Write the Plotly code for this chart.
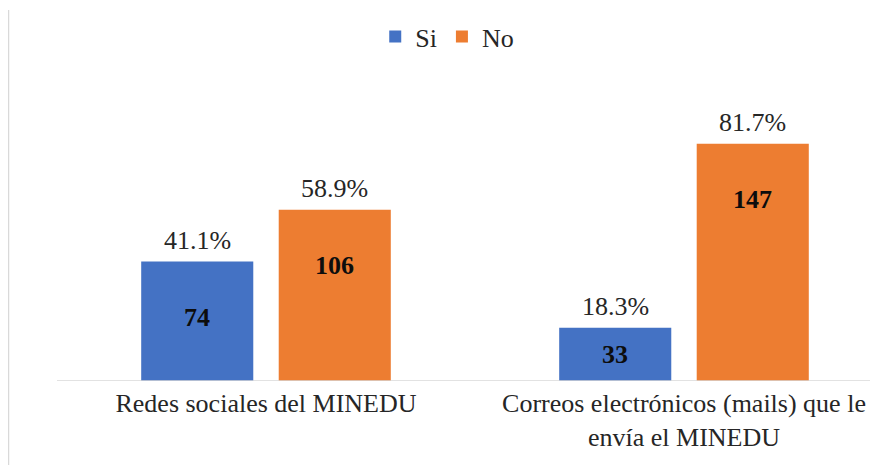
import plotly.graph_objects as go

categories = ["Redes sociales del MINEDU", "Correos electrónicos (mails) que le<br>envía el MINEDU"]
si_counts = [74, 33]
no_counts = [106, 147]
si_pct = ["41.1%", "18.3%"]
no_pct = ["58.9%", "81.7%"]

FONT = "Liberation Serif, Times New Roman, serif"
BLUE = "#4472C4"
ORANGE = "#ED7D31"
FS = 26

# the page body adds an 8px offset, so the figure is drawn 8px smaller
W, H = 873, 463
ML, MR, MT, MB = 49, 11, 52, 90
YMAX = 198.8
plot_h = H - MT - MB
plot_w = W - ML - MR
px_per_unit = plot_h / YMAX

fig = go.Figure()
fig.add_trace(go.Bar(name="Si", x=[0, 1], y=si_counts, marker=dict(color=BLUE, line=dict(width=0)), hoverinfo="skip"))
fig.add_trace(go.Bar(name="No", x=[0, 1], y=no_counts, marker=dict(color=ORANGE, line=dict(width=0)), hoverinfo="skip"))

ann = []
slot = (1 - 0.342) / 2
for i in range(2):
    for j, (cnt, pct) in enumerate([(si_counts[i], si_pct[i]), (no_counts[i], no_pct[i])]):
        xc = i + (j - 0.5) * slot
        ann.append(dict(x=xc, y=cnt, text=pct, showarrow=False, yanchor="middle", yshift=21,
                        font=dict(family=FONT, size=FS, color="#262626")))
        shift = min(56, cnt * px_per_unit / 2)
        ann.append(dict(x=xc, y=cnt, text="<b>%d</b>" % cnt, showarrow=False, yanchor="middle", yshift=-shift,
                        font=dict(family=FONT, size=FS, color="#0d0d0d")))

fig.update_layout(
    width=W, height=H,
    margin=dict(l=ML, r=MR, t=MT, b=MB, autoexpand=False),
    plot_bgcolor="white", paper_bgcolor="white",
    barmode="group", bargap=0.342, bargroupgap=0.185,
    font=dict(family=FONT, size=FS, color="#262626"),
    showlegend=True,
    legend=dict(orientation="h", x=0.48, xanchor="center", y=1.0, yanchor="bottom", yref="paper",
                font=dict(family=FONT, size=FS, color="#262626"), itemwidth=30, traceorder="normal"),
    xaxis=dict(range=[-0.5, 1.445], tickmode="array", tickvals=[0, 1], ticktext=categories,
               showgrid=False, zeroline=False, showline=False, ticks="", automargin=False,
               ticklabelstandoff=4,
               tickfont=dict(family=FONT, size=FS, color="#262626")),
    yaxis=dict(range=[0, YMAX], visible=False, showgrid=False, zeroline=False),
    annotations=ann,
    shapes=[
        dict(type="line", xref="paper", yref="y", x0=0, x1=1, y0=0, y1=0, line=dict(color="#d9d9d9", width=1.5)),
        dict(type="line", xref="paper", yref="paper", x0=(0.5 - ML) / plot_w, x1=(0.5 - ML) / plot_w,
             y0=(H - MB - 457) / plot_h, y1=(H - MB - 2) / plot_h, line=dict(color="#d9d9d9", width=1.5)),
    ],
)

fig.write_html("out.html")
